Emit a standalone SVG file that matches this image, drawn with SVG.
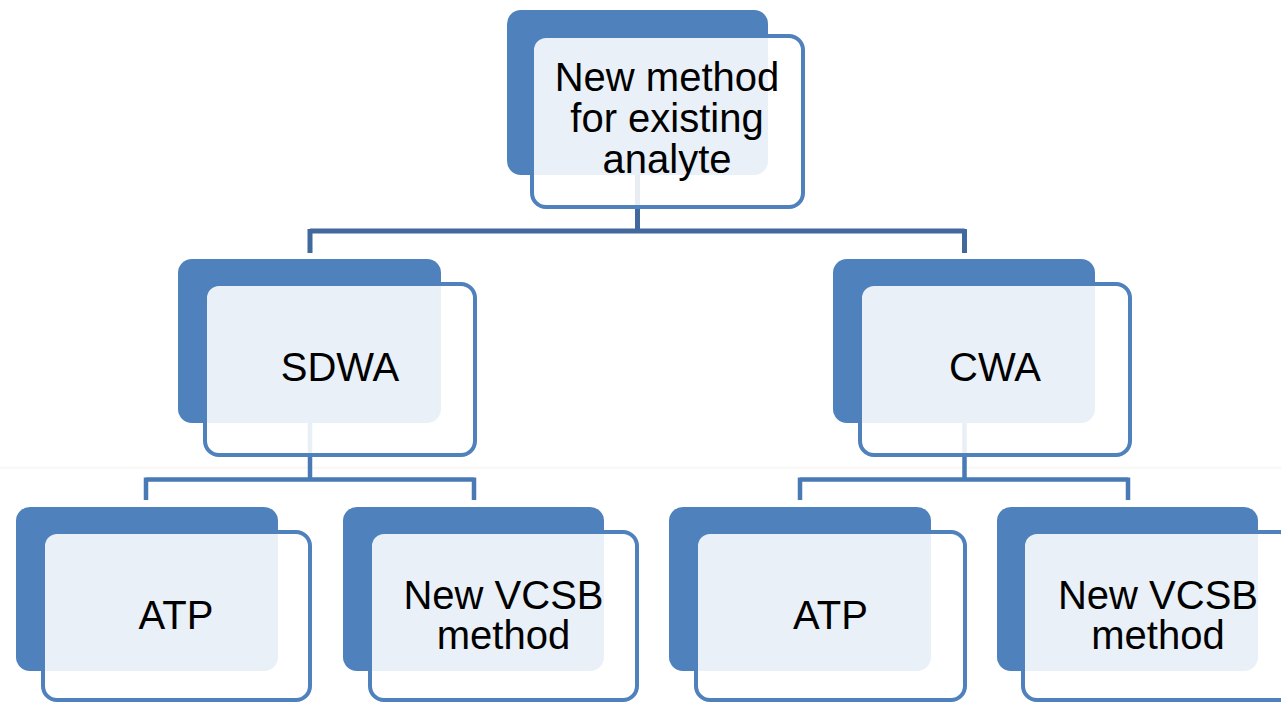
<svg xmlns="http://www.w3.org/2000/svg" width="1281" height="702" viewBox="0 0 1281 702">
<style>
.back{fill:#4f81bd;}
.front{fill:#ffffff;fill-opacity:0.88;stroke:#4f81bd;stroke-width:4;}
.lbl{font-family:"Liberation Sans",Arial,sans-serif;font-size:40px;fill:#000000;text-anchor:middle;}
.c1{fill:none;stroke:#41699d;stroke-width:5;}
.c2{fill:none;stroke:#4a7ab6;stroke-width:4.5;}
</style>
<rect x="0" y="0" width="1281" height="702" fill="#ffffff"/>
<rect x="0" y="466.5" width="1281" height="2.5" fill="#f8f8f6"/>
<g id="connectors">
<path class="c1" d="M637.5 175 V231 M310 231 H964.5 M310 229 V253 M964.5 229 V253"/>
<path class="c2" d="M310 423 V479.5 M146 479.5 H474 M146 477.5 V500 M474 477.5 V500"/>
<path class="c2" d="M964.5 423 V479.5 M800 479.5 H1128 M800 477.5 V500 M1128 477.5 V500"/>
</g>
<g id="node-top">
<rect class="back" x="507" y="10" width="261" height="165" rx="14"/>
<rect class="front" x="532" y="36" width="271" height="171" rx="14"/>
<text class="lbl" x="667" y="91">New method</text>
<text class="lbl" x="667" y="132">for existing</text>
<text class="lbl" x="667" y="173">analyte</text>
</g>
<g id="node-sdwa">
<rect class="back" x="178" y="259" width="263" height="164" rx="14"/>
<rect class="front" x="205" y="284" width="270" height="171" rx="14"/>
<text class="lbl" x="340" y="381">SDWA</text>
</g>
<g id="node-cwa">
<rect class="back" x="833" y="259" width="262" height="164" rx="14"/>
<rect class="front" x="860" y="284" width="270" height="171" rx="14"/>
<text class="lbl" x="995" y="381">CWA</text>
</g>
<g id="node-atp-left">
<rect class="back" x="16" y="507" width="262" height="164" rx="14"/>
<rect class="front" x="43" y="532" width="267" height="168" rx="14"/>
<text class="lbl" x="176" y="629">ATP</text>
</g>
<g id="node-vcsb-left">
<rect class="back" x="343" y="507" width="261" height="164" rx="14"/>
<rect class="front" x="370" y="532" width="267" height="168" rx="14"/>
<text class="lbl" x="503.5" y="609">New VCSB</text>
<text class="lbl" x="503.5" y="649">method</text>
</g>
<g id="node-atp-right">
<rect class="back" x="669" y="507" width="262" height="164" rx="14"/>
<rect class="front" x="696" y="532" width="269" height="168" rx="14"/>
<text class="lbl" x="830.5" y="629">ATP</text>
</g>
<g id="node-vcsb-right">
<rect class="back" x="997" y="507" width="261" height="164" rx="14"/>
<rect class="front" x="1023" y="532" width="270" height="168" rx="14"/>
<text class="lbl" x="1158" y="609">New VCSB</text>
<text class="lbl" x="1158" y="649">method</text>
</g>
</svg>
